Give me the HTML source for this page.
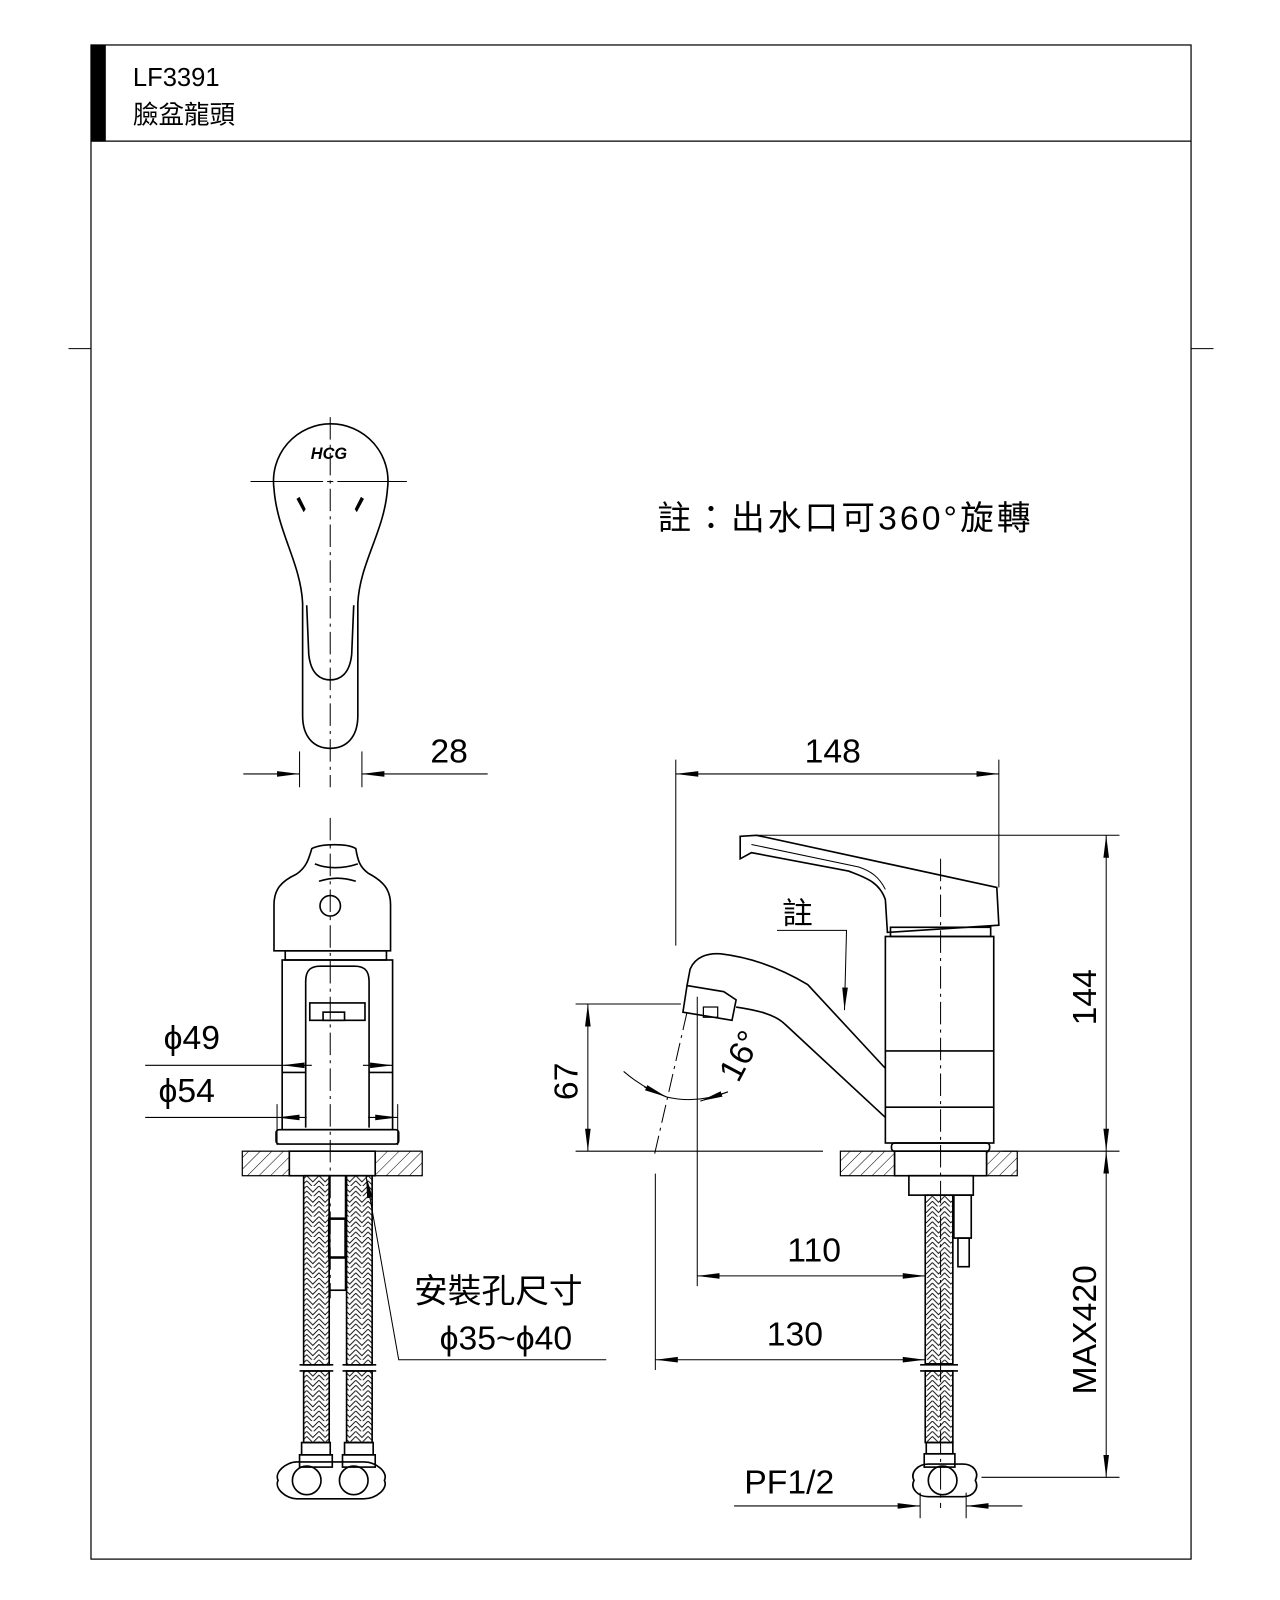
<!DOCTYPE html>
<html><head><meta charset="utf-8"><style>
html,body{margin:0;padding:0;background:#fff;}
svg{display:block;}
text{font-family:"Liberation Sans","Noto Sans CJK TC",sans-serif;fill:#000;}
</style></head><body>
<svg width="1280" height="1600" viewBox="0 0 1252 1565" xmlns="http://www.w3.org/2000/svg">
<defs>
<pattern id="hatch" width="8" height="8" patternUnits="userSpaceOnUse" patternTransform="rotate(45)">
<line x1="0" y1="0" x2="0" y2="8" stroke="#000" stroke-width="1"/></pattern>
<pattern id="braid" width="12" height="10" patternUnits="userSpaceOnUse">
<path d="M0 0 L6 6 L12 0 M0 5 L6 11 L12 5" fill="none" stroke="#000" stroke-width="0.9"/></pattern>
<marker id="ar2" viewBox="0 0 20 6" refX="20" refY="3" markerWidth="22" markerHeight="7" markerUnits="userSpaceOnUse" orient="auto-start-reverse"><path d="M0 0.5 L20 3 L0 5.5 Z" fill="#000"/></marker>
</defs>
<g fill="none" stroke="#000">
<rect x="89" y="44" width="1076" height="1481" stroke-width="1.2"/>
<line x1="89" y1="138" x2="1165" y2="138" stroke-width="1.2"/>
<rect x="89" y="44" width="14" height="94" fill="#000"/>
<line x1="67" y1="341" x2="89" y2="341"/><line x1="1165" y1="341" x2="1187" y2="341"/>
</g>
<text x="130" y="84" font-size="25">LF3391</text>
<text x="130" y="121" font-size="25">臉盆龍頭</text>
<text x="643" y="518" font-size="33" letter-spacing="3">註：出水口可360°旋轉</text>

<g fill="none" stroke="#000" stroke-width="1.6">
<path d="M268 478 A56 56 0 1 1 379 478 C376 520 352 550 350 590 L350 700 C350 722 338 732 323 732 C308 732 296 722 296 700 L296 590 C294 550 271 520 268 478 Z"/>
<path d="M300 592 L302 640 C304 660 314 665 323 665 C332 665 342 660 344 640 L346 592"/>
</g>
<g stroke="#000" stroke-width="1" fill="none">
<line x1="245" y1="471" x2="316" y2="471"/><line x1="320" y1="471" x2="326" y2="471"/><line x1="330" y1="471" x2="398" y2="471"/>
<line x1="323" y1="408" x2="323" y2="770" stroke-dasharray="22 5 3 5"/>
<line x1="293" y1="735" x2="293" y2="770"/><line x1="354" y1="735" x2="354" y2="770"/>
<line x1="238" y1="757" x2="293" y2="757" marker-end="url(#ar2)"/>
<line x1="477" y1="757" x2="354" y2="757" marker-end="url(#ar2)"/>
</g>
<path d="M290 488 l3 -2 l6 12 l-2 3 z" fill="#000"/><path d="M356 488 l-3 -2 l-6 12 l2 3 z" fill="#000"/>
<text x="304" y="449" font-size="16" font-style="italic" font-weight="bold">HCG</text>
<text x="421" y="746" font-size="33">28</text>

<g fill="none" stroke="#000" stroke-width="1.6">
<path d="M268 930 L268 885 C268 870 275 862 290 855 C300 848 302 840 305 830 C315 825 340 825 348 830 C350 842 352 848 360 854 C375 862 382 870 382 885 L382 930 Z"/>
<path d="M308 845 C320 850 335 850 350 845"/><path d="M312 862 C325 858 335 858 348 862"/>
<circle cx="323" cy="886" r="10"/>
<rect x="279" y="930" width="99" height="9"/>
<rect x="276" y="939" width="108" height="166"/>
<path d="M299 1103 L299 960 C299 948 305 945 313 945 L347 945 C355 945 361 948 361 960 L361 1103"/>
<rect x="303" y="981" width="54" height="17"/><rect x="316" y="990" width="21" height="8"/>
<line x1="276" y1="1049" x2="299" y2="1049"/><line x1="361" y1="1049" x2="384" y2="1049"/>
<rect x="270" y="1105" width="120" height="14" rx="3"/>
<rect x="237" y="1126" width="46" height="24" fill="url(#hatch)" stroke-width="1.2"/>
<rect x="367" y="1126" width="46" height="24" fill="url(#hatch)" stroke-width="1.2"/>
<rect x="283" y="1126" width="84" height="24"/>
<rect x="297" y="1150" width="25" height="185" fill="url(#braid)"/>
<rect x="339" y="1150" width="25" height="185" fill="url(#braid)"/>
<rect x="297" y="1341" width="25" height="70" fill="url(#braid)"/>
<rect x="339" y="1341" width="25" height="70" fill="url(#braid)"/>
<line x1="293" y1="1335" x2="326" y2="1335"/><line x1="293" y1="1341" x2="326" y2="1341"/>
<line x1="335" y1="1335" x2="368" y2="1335"/><line x1="335" y1="1341" x2="368" y2="1341"/>
<rect x="322" y="1150" width="16" height="112" fill="#fff"/>
<rect x="322" y="1192" width="16" height="38" stroke-width="2.5"/>
<rect x="295" y="1411" width="28" height="12"/><rect x="337" y="1411" width="28" height="12"/>
<rect x="293" y="1423" width="32" height="12"/><rect x="335" y="1423" width="32" height="12"/>
<path d="M272 1448 C268 1440 280 1430 290 1430 L356 1430 C368 1430 380 1440 376 1448 C380 1456 368 1466 356 1466 L290 1466 C280 1466 268 1456 272 1448 Z"/>
<circle cx="300" cy="1448" r="14"/><circle cx="346" cy="1448" r="14"/>
</g>
<g stroke="#000" stroke-width="1" fill="none">
<line x1="323" y1="800" x2="323" y2="1270" stroke-dasharray="22 5 3 5"/>
<line x1="142" y1="1042" x2="276" y2="1042"/>
<line x1="305" y1="1042" x2="276" y2="1042" marker-end="url(#ar2)"/>
<line x1="355" y1="1042" x2="384" y2="1042" marker-end="url(#ar2)"/>
<line x1="142" y1="1093" x2="271" y2="1093"/>
<line x1="271" y1="1080" x2="271" y2="1120"/><line x1="389" y1="1080" x2="389" y2="1120"/>
<line x1="300" y1="1093" x2="271" y2="1093" marker-end="url(#ar2)"/>
<line x1="360" y1="1093" x2="389" y2="1093" marker-end="url(#ar2)"/>
<polyline points="593,1330 390,1330 358,1150" marker-end="url(#ar2)"/>
</g>
<text x="160" y="1026" font-size="33">ϕ49</text>
<text x="155" y="1078" font-size="33">ϕ54</text>
<text x="405" y="1274" font-size="33">安裝孔尺寸</text>
<text x="430" y="1320" font-size="33">ϕ35~ϕ40</text>

<g fill="none" stroke="#000" stroke-width="1.6">
<path d="M724 818 L740 817 L975 868 L977 905 L868 912 L866 880 C860 862 845 858 830 852 L735 834 L724 840 Z"/>
<path d="M735 826 L840 848 C852 852 860 858 866 870" stroke-width="1"/>
<rect x="871" y="907" width="98" height="9"/>
<rect x="866" y="916" width="106" height="202"/>
<line x1="866" y1="1028" x2="972" y2="1028"/><line x1="866" y1="1083" x2="972" y2="1083"/>
<path d="M672 964 L675 948 C680 936 692 932 705 933 C730 936 760 945 790 963 L866 1045"/>
<path d="M720 985 C740 988 758 992 768 1002 L866 1093"/>
<path d="M672 964 L708 970 L720 978 L716 998 L668 990 Z"/>
<rect x="688" y="985" width="14" height="10" stroke-width="1.2"/>
<rect x="822" y="1126" width="53" height="24" fill="url(#hatch)" stroke-width="1.2"/>
<rect x="965" y="1126" width="30" height="24" fill="url(#hatch)" stroke-width="1.2"/>
<rect x="875" y="1126" width="90" height="24"/>
<rect x="872" y="1118" width="96" height="8" rx="3"/>
<rect x="889" y="1150" width="63" height="19"/>
<rect x="905" y="1169" width="27" height="165" fill="url(#braid)"/>
<rect x="905" y="1341" width="27" height="70" fill="url(#braid)"/>
<line x1="900" y1="1335" x2="937" y2="1335"/><line x1="900" y1="1341" x2="937" y2="1341"/>
<rect x="933" y="1169" width="17" height="42"/><rect x="937" y="1211" width="11" height="28"/>
<rect x="906" y="1411" width="26" height="11"/><rect x="904" y="1422" width="30" height="13"/>
<path d="M894 1448 C890 1440 898 1432 908 1432 L942 1432 C952 1432 958 1440 954 1448 C958 1456 952 1464 942 1464 L908 1464 C898 1464 890 1456 894 1448 Z"/>
<circle cx="922" cy="1448" r="14"/>
</g>
<g stroke="#000" stroke-width="1" fill="none">
<line x1="920" y1="840" x2="920" y2="1475" stroke-dasharray="22 5 3 5"/>
<line x1="661" y1="743" x2="661" y2="925"/><line x1="977" y1="743" x2="977" y2="868"/>
<line x1="661" y1="757" x2="977" y2="757" marker-start="url(#ar2)" marker-end="url(#ar2)"/>
<line x1="740" y1="817" x2="1095" y2="817"/>
<line x1="563" y1="1126" x2="805" y2="1126"/><line x1="980" y1="1126" x2="1095" y2="1126"/>
<line x1="960" y1="1445" x2="1095" y2="1445"/>
<line x1="1082" y1="817" x2="1082" y2="1126" marker-start="url(#ar2)" marker-end="url(#ar2)"/>
<line x1="1082" y1="1126" x2="1082" y2="1445" marker-start="url(#ar2)" marker-end="url(#ar2)"/>
<line x1="563" y1="982" x2="666" y2="982"/>
<line x1="575" y1="982" x2="575" y2="1126" marker-start="url(#ar2)" marker-end="url(#ar2)"/>
<line x1="682" y1="975" x2="682" y2="1258"/>
<line x1="672" y1="990" x2="640" y2="1130" stroke-dasharray="18 5 3 5"/>
<path d="M610 1048 Q630 1065 652 1073 Q682 1080 712 1068"/>
<line x1="630" y1="1063" x2="652" y2="1073" marker-end="url(#ar2)"/>
<line x1="712" y1="1068" x2="685" y2="1077" marker-end="url(#ar2)"/>
<polyline points="760,910 828,910 826,988" marker-end="url(#ar2)"/>
<line x1="641" y1="1148" x2="641" y2="1340"/>
<line x1="682" y1="1248" x2="905" y2="1248" marker-start="url(#ar2)" marker-end="url(#ar2)"/>
<line x1="641" y1="1330" x2="905" y2="1330" marker-start="url(#ar2)" marker-end="url(#ar2)"/>
<line x1="900" y1="1460" x2="900" y2="1485"/><line x1="945" y1="1460" x2="945" y2="1485"/>
<line x1="718" y1="1473" x2="900" y2="1473" marker-end="url(#ar2)"/>
<line x1="1000" y1="1473" x2="945" y2="1473" marker-end="url(#ar2)"/>
</g>
<text x="787" y="746" font-size="33">148</text>
<text x="765" y="904" font-size="30">註</text>
<text x="770" y="1234" font-size="33">110</text>
<text x="750" y="1316" font-size="33">130</text>
<text x="728" y="1461" font-size="33">PF1/2</text>
<text font-size="33" transform="translate(1072,1003) rotate(-90)">144</text>
<text font-size="33" transform="translate(1072,1364) rotate(-90)">MAX420</text>
<text font-size="33" transform="translate(565,1076) rotate(-90)">67</text>
<text font-size="33" transform="translate(722,1060) rotate(-62)">16°</text>
</svg>
</body></html>
